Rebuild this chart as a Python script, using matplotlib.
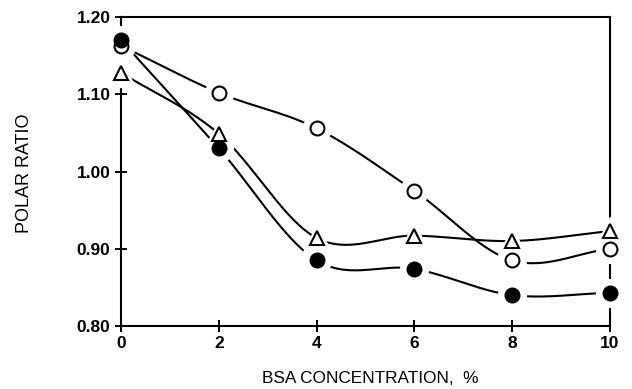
import numpy as np
import matplotlib
matplotlib.use("Agg")
import matplotlib.pyplot as plt

conc = [0, 2, 4, 6, 8, 10]
open_circle = [1.163, 1.102, 1.056, 0.975, 0.885, 0.900]
triangle = [1.128, 1.049, 0.914, 0.917, 0.910, 0.923]
filled_circle = [1.170, 1.030, 0.885, 0.874, 0.840, 0.843]

x_ticks = [0, 2, 4, 6, 8, 10]
y_ticks = [0.80, 0.90, 1.00, 1.10, 1.20]
y_ticklabels = ["0.80", "0.90", "1.00", "1.10", "1.20"]


def catmull(x, y, n=40):
    x = np.asarray(x, float)
    y = np.asarray(y, float)
    px = np.concatenate([[2 * x[0] - x[1]], x, [2 * x[-1] - x[-2]]])
    py = np.concatenate([[2 * y[0] - y[1]], y, [2 * y[-1] - y[-2]]])
    xs, ys = [], []
    for i in range(1, len(px) - 2):
        t = np.linspace(0, 1, n)
        p0, p1, p2, p3 = py[i - 1], py[i], py[i + 1], py[i + 2]
        ys.append(0.5 * ((2 * p1) + (-p0 + p2) * t + (2 * p0 - 5 * p1 + 4 * p2 - p3) * t ** 2
                         + (-p0 + 3 * p1 - 3 * p2 + p3) * t ** 3))
        xs.append(px[i] + (px[i + 1] - px[i]) * t)
    return np.concatenate(xs), np.concatenate(ys)


plt.rcParams['font.family'] = ['Liberation Sans', 'DejaVu Sans']
fig = plt.figure(figsize=(6.32, 3.89), dpi=100)
ax = fig.add_axes([0.1915, 0.162, 0.7735, 0.794])

for series in (open_circle, triangle, filled_circle):
    sx, sy = catmull(conc, series)
    ax.plot(sx, sy, color='black', lw=1.5, zorder=2, clip_on=False)

# white halos to create gaps around markers
for series, m, ms in ((open_circle, 'o', 10), (triangle, '^', 9.5), (filled_circle, 'o', 10)):
    ax.plot(conc, series, ls='none', marker=m, ms=ms + 10, mfc='white', mec='white',
            zorder=3, clip_on=False)

ax.plot(conc, open_circle, ls='none', marker='o', ms=10, mfc='white', mec='black',
        mew=1.5, zorder=4, clip_on=False)
ax.plot(conc, triangle, ls='none', marker='^', ms=9.5, mfc='white', mec='black',
        mew=1.5, zorder=4, clip_on=False)
ax.plot(conc, filled_circle, ls='none', marker='o', ms=10, mfc='black', mec='black',
        mew=1.5, zorder=5, clip_on=False)

ax.set_xlim(0, 10)
ax.set_ylim(0.80, 1.20)
ax.set_xticks(x_ticks)
ax.set_yticks(y_ticks)
ax.set_yticklabels(y_ticklabels)
ax.tick_params(direction='inout', length=9, width=1.4, labelsize=12.5, pad=3)
for lab in ax.get_xticklabels() + ax.get_yticklabels():
    lab.set_fontweight('bold')
for s in ax.spines.values():
    s.set_linewidth(1.5)

fig.text(0.038, 0.555, 'POLAR RATIO', rotation=90, ha='center', va='center',
         fontsize=13)
fig.text(0.586, 0.028, 'BSA CONCENTRATION,  %', ha='center', va='center',
         fontsize=12.4)

fig.savefig('out.png', dpi=100)
